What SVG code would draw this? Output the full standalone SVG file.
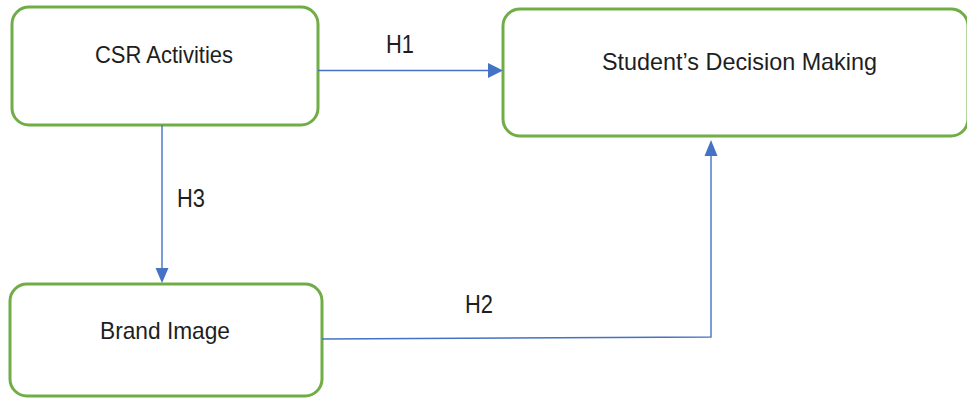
<svg xmlns="http://www.w3.org/2000/svg" width="967" height="398" viewBox="0 0 967 398">
<style>
.box{fill:#fff;stroke:#70AD47;stroke-width:3}
.lbl{font-family:"Liberation Sans",Arial,sans-serif;font-size:24px;fill:#1e1e1e}
.h{font-family:"Liberation Sans",Arial,sans-serif;font-size:26px;fill:#1e1e1e}
.con{fill:none;stroke:#4472C4;stroke-width:1.4}
.head{fill:#4472C4}
</style>
<rect width="967" height="398" fill="#fff"/>
<g id="csr">
<rect class="box" x="12" y="7" width="306" height="118" rx="17"/>
<text class="lbl" x="95" y="63" textLength="138" lengthAdjust="spacingAndGlyphs">CSR Activities</text>
</g>
<g id="decision">
<rect class="box" x="503" y="9" width="465" height="127" rx="17"/>
<text class="lbl" x="602" y="70" textLength="275" lengthAdjust="spacingAndGlyphs">Student’s Decision Making</text>
</g>
<g id="brand">
<rect class="box" x="10" y="284" width="312" height="112" rx="17"/>
<text class="lbl" x="100" y="339" textLength="130" lengthAdjust="spacingAndGlyphs">Brand Image</text>
</g>
<g id="connectors">
<line class="con" x1="318" y1="70.5" x2="490" y2="70.5"/>
<polygon class="head" points="503,70.5 488,63 488,78"/>
<line class="con" x1="162" y1="125" x2="162" y2="270"/>
<polygon class="head" points="162,283 155.5,268 168.5,268"/>
<polyline class="con" points="322,339 711,337 711,154"/>
<polygon class="head" points="711,140 704.5,156 717.5,156"/>
</g>
<g id="labels">
<text class="h" x="386" y="53" textLength="28" lengthAdjust="spacingAndGlyphs">H1</text>
<text class="h" x="177" y="207" textLength="28" lengthAdjust="spacingAndGlyphs">H3</text>
<text class="h" x="465" y="313" textLength="28" lengthAdjust="spacingAndGlyphs">H2</text>
</g>
</svg>
